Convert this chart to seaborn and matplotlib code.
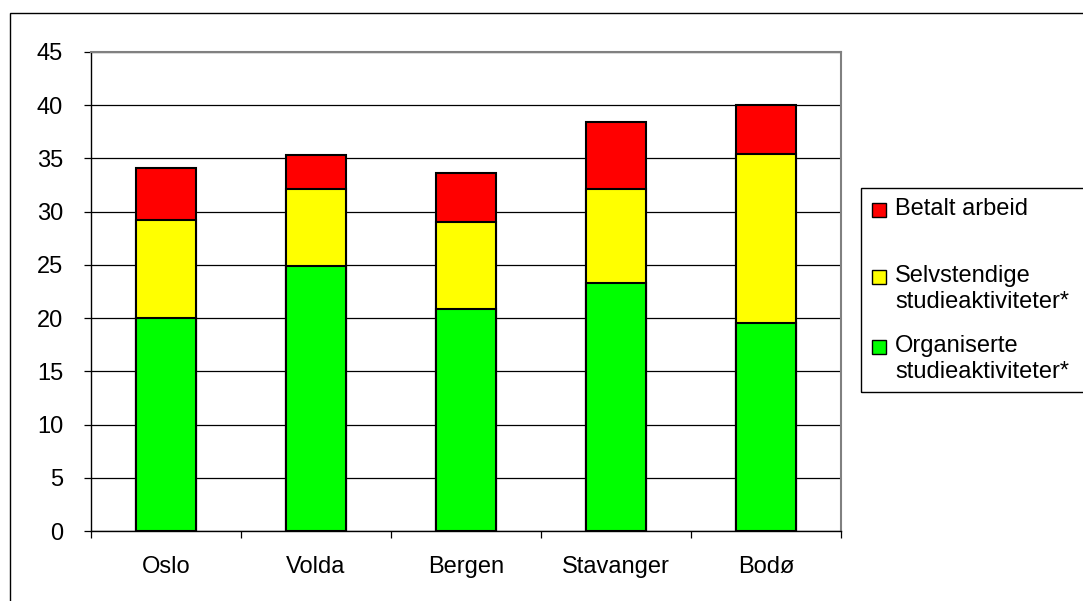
import numpy as np
import pandas as pd
import matplotlib
matplotlib.use("Agg")
import matplotlib.pyplot as plt
from matplotlib.patches import Rectangle
import seaborn as sns

# values (hours per week)
steder = ["Oslo", "Volda", "Bergen", "Stavanger", "Bodø"]
organiserte = [20.0, 24.9, 20.9, 23.3, 19.5]
selvstendige = [9.2, 7.2, 8.1, 8.8, 15.9]
betalt = [4.9, 3.2, 4.6, 6.3, 4.6]

serier = ["Betalt arbeid", "Selvstendige\nstudieaktiviteter*", "Organiserte\nstudieaktiviteter*"]
farger = ["#FF0000", "#FFFF00", "#00FF00"]
yticks = list(range(0, 50, 5))

df = pd.DataFrame({"sted": steder, "org": organiserte, "selv": selvstendige, "bet": betalt})
df["lag2"] = df["org"] + df["selv"]
df["total"] = df["lag2"] + df["bet"]

sns.set_style("white")
plt.rcParams["font.family"] = ["Liberation Sans", "DejaVu Sans"]

W, H = 1083, 601
fs = 17
fig = plt.figure(figsize=(W / 100, H / 100), dpi=100)
ax = fig.add_axes([91 / W, 70 / H, 750 / W, 479 / H])

# stacked bars drawn as overlaid cumulative totals
for col, c in zip(["total", "lag2", "org"], farger):
    sns.barplot(data=df, x="sted", y=col, color=c, saturation=1, width=0.4,
                edgecolor="black", linewidth=1.5, ax=ax, zorder=3)

ax.set_xlim(-0.5, 4.5)
ax.set_ylim(0, 45)
ax.set_yticks(yticks)
ax.set_xlabel("")
ax.set_ylabel("")
ax.yaxis.grid(True, color="black", lw=0.9)
ax.set_axisbelow(True)

ax.tick_params(axis="y", left=True, length=5, width=0.9, pad=15, labelsize=fs, colors="black")
ax.tick_params(axis="x", which="major", length=0, pad=18, labelsize=fs, colors="black")
ax.set_xticks(np.arange(-0.5, 5, 1), minor=True)
ax.tick_params(axis="x", which="minor", bottom=True, length=5, width=0.9, color="black")

for s in ["left", "bottom"]:
    ax.spines[s].set_color("black")
    ax.spines[s].set_linewidth(1.0)
for s in ["top", "right"]:
    ax.spines[s].set_color("#808080")
    ax.spines[s].set_linewidth(1.5)

# outer chart border
fig.add_artist(Rectangle((10 / W, -0.1), 1.2, (H - 13) / H + 0.1, transform=fig.transFigure,
                         fill=False, ec="black", lw=1.0))

# legend box
fig.add_artist(Rectangle((861 / W, (H - 392) / H), 0.5, 204 / H, transform=fig.transFigure,
                         fill=False, ec="black", lw=1.0))
cap_top = [200, 267, 337]
for lab, c, y in zip(serier, farger, cap_top):
    fig.add_artist(Rectangle((872 / W, (H - (y + 17)) / H), 14 / W, 14 / H,
                             transform=fig.transFigure, fc=c, ec="black", lw=1.0))
    fig.text(895 / W, (H - (y - 2)) / H, lab, ha="left", va="top", fontsize=fs,
             linespacing=1.22, color="black")

fig.savefig("out.png", dpi=100)
